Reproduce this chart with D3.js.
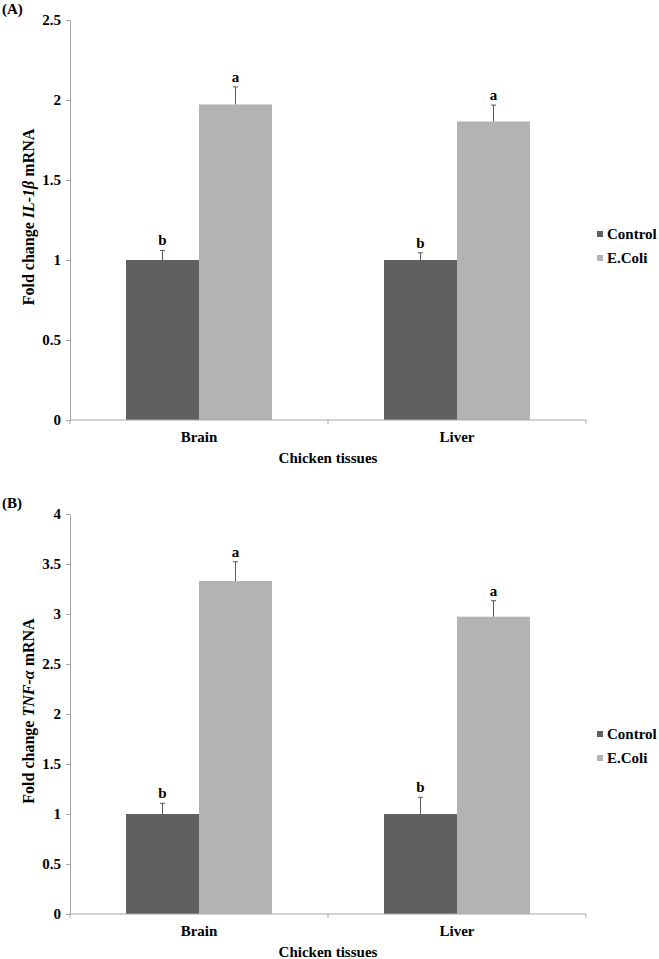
<!DOCTYPE html>
<html><head><meta charset="utf-8">
<script src="https://cdn.jsdelivr.net/npm/d3@7"></script>
<style>body{margin:0;background:#fff;} text{font-family:"Liberation Serif","Times New Roman",serif;font-weight:bold;fill:#000;}</style>
</head><body>
<svg id="c" width="659" height="959"></svg>
<script>
const categories = ["Brain", "Liver"];
const series = ["Control", "E.Coli"];
const seriesColors = ["#606060", "#b3b3b3"];

// Panel A: IL-1β
const il1bControl = [1.0, 1.0];
const il1bControlErr = [0.06, 0.045];
const il1bEcoli = [1.972, 1.866];
const il1bEcoliErr = [0.11, 0.102];
const il1bTicks = [0, 0.5, 1, 1.5, 2, 2.5];

// Panel B: TNF-α
const tnfControl = [1.0, 1.0];
const tnfControlErr = [0.107, 0.167];
const tnfEcoli = [3.33, 2.973];
const tnfEcoliErr = [0.193, 0.16];
const tnfTicks = [0, 0.5, 1, 1.5, 2, 2.5, 3, 3.5, 4];

const controlLetters = ["b", "b"];
const ecoliLetters = ["a", "a"];

const svg = d3.select("#c");

function panel(cfg) {
  const g = svg.append("g");
  const x0 = d3.scaleBand().domain(categories).range([70, 586]).paddingInner(0).paddingOuter(0);
  const x1 = d3.scaleBand().domain(series).range([0, x0.bandwidth()]).paddingInner(0).paddingOuter(0.767);
  const y = d3.scaleLinear().domain([0, cfg.ticks[cfg.ticks.length - 1]]).range([cfg.bottom, cfg.top]);

  // panel label
  g.append("text").attr("x", 2).attr("y", cfg.top - 6).style("font-size", "15px").text(cfg.label);

  // y axis
  const ya = g.append("g").attr("transform", "translate(70,0)")
    .call(d3.axisLeft(y).tickValues(cfg.ticks).tickSize(4).tickPadding(5).tickFormat(d3.format("")));
  ya.select(".domain").attr("stroke", "#a6a6a6");
  ya.selectAll(".tick line").attr("stroke", "#a6a6a6");
  ya.selectAll(".tick text").style("font-size", "15px").attr("font-family", null);

  // bars
  const rows = categories.map((c, i) => ({c, vals: [
    {s: series[0], v: cfg.control[i], e: cfg.controlErr[i], l: controlLetters[i]},
    {s: series[1], v: cfg.ecoli[i], e: cfg.ecoliErr[i], l: ecoliLetters[i]}
  ]}));
  const cg = g.selectAll(".cat").data(rows).enter().append("g")
    .attr("transform", d => `translate(${x0(d.c)},0)`);
  const bg = cg.selectAll(".b").data(d => d.vals).enter().append("g");
  bg.append("rect")
    .attr("x", d => x1(d.s)).attr("width", x1.bandwidth())
    .attr("y", d => y(d.v)).attr("height", d => y(0) - y(d.v))
    .attr("fill", (d, i) => seriesColors[i]);
  bg.append("line")
    .attr("x1", d => x1(d.s) + x1.bandwidth() / 2).attr("x2", d => x1(d.s) + x1.bandwidth() / 2)
    .attr("y1", d => y(d.v)).attr("y2", d => y(d.v + d.e))
    .attr("stroke", "#595959").attr("stroke-width", 1);
  bg.append("line")
    .attr("x1", d => x1(d.s) + x1.bandwidth() / 2 - 2.5).attr("x2", d => x1(d.s) + x1.bandwidth() / 2 + 2.5)
    .attr("y1", d => y(d.v + d.e)).attr("y2", d => y(d.v + d.e))
    .attr("stroke", "#595959").attr("stroke-width", 1);
  bg.append("text")
    .attr("x", d => x1(d.s) + x1.bandwidth() / 2).attr("y", d => y(d.v + d.e) - 5)
    .attr("text-anchor", "middle").style("font-size", "15px").text(d => d.l);

  // x axis
  const xa = g.append("g").attr("transform", `translate(0,${cfg.bottom})`);
  xa.append("line").attr("x1", 70).attr("x2", 586).attr("stroke", "#a6a6a6");
  const bounds = [x0(categories[0]), ...categories.map(c => x0(c) + x0.bandwidth())];
  xa.selectAll(".xt").data(bounds).enter().append("line")
    .attr("x1", d => d).attr("x2", d => d).attr("y1", 0).attr("y2", 4).attr("stroke", "#a6a6a6");
  xa.selectAll(".xl").data(categories).enter().append("text")
    .attr("x", d => x0(d) + x0.bandwidth() / 2).attr("y", 22)
    .attr("text-anchor", "middle").style("font-size", "15px").text(d => d);
  xa.append("text").attr("x", (70 + 586) / 2).attr("y", 43)
    .attr("text-anchor", "middle").style("font-size", "15px").text("Chicken tissues");

  // y title
  const yt = g.append("text")
    .attr("transform", `translate(34,${(cfg.top + cfg.bottom) / 2 - 3}) rotate(-90)`)
    .attr("text-anchor", "middle").style("font-size", "16px");
  yt.append("tspan").text("Fold change ");
  yt.append("tspan").style("font-style", "italic").text(cfg.gene);
  yt.append("tspan").text(" mRNA");

  // legend
  const lg = g.append("g");
  series.forEach((s, i) => {
    const cy = cfg.legendY + i * 24;
    lg.append("rect").attr("x", 597).attr("y", cy - 3).attr("width", 6).attr("height", 6).attr("fill", seriesColors[i]);
    lg.append("text").attr("x", 607).attr("y", cy + 5).style("font-size", "15px").text(s);
  });
}

panel({label: "(A)", top: 20, bottom: 420, ticks: il1bTicks, control: il1bControl, controlErr: il1bControlErr,
  ecoli: il1bEcoli, ecoliErr: il1bEcoliErr, gene: "IL-1β", legendY: 234});
panel({label: "(B)", top: 514, bottom: 914, ticks: tnfTicks, control: tnfControl, controlErr: tnfControlErr,
  ecoli: tnfEcoli, ecoliErr: tnfEcoliErr, gene: "TNF-α", legendY: 734});
</script>
</body></html>
